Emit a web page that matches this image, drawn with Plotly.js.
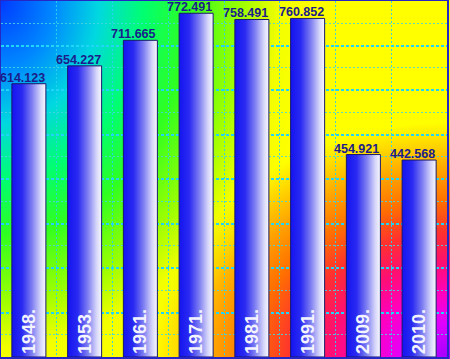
<!DOCTYPE html>
<html>
<head>
<meta charset="utf-8">
<script src="https://cdn.plot.ly/plotly-3.0.1.min.js"></script>
<style>
  html, body { margin: 0; padding: 0; background: #ffffff; }
  #chart {
    width: 450px; height: 359px;
    background:
      radial-gradient(ellipse 450px 560px at 0 0, #0038ff 0%, #0088ff 12%, #00d8e0 22%, #00ff70 32%, #30ff20 42%, #a0ff00 54%, rgba(230,255,0,0.5) 62%, rgba(255,255,0,0) 70%),
      radial-gradient(ellipse 450px 359px at 100% 100%, #a000ff 0%, #e000ff 10%, #ff00c0 18%, #ff1070 27%, #ff3030 35%, #ff7000 44%, #ffa000 52%, #ffd000 59%, #ffff00 66%);
  }
</style>
</head>
<body>
<div id="chart"></div>
<script>
// ---- data ----
const years = ["1948", "1953", "1961", "1971", "1981", "1991", "2009", "2010"];
const yearLabels = ["1948.", "1953.", "1961.", "1971.", "1981.", "1991.", "2009.", "2010."];
const values = [614.123, 654.227, 711.665, 772.491, 758.491, 760.852, 454.921, 442.568];
const valueLabels = ["614.123", "654.227", "711.665", "772.491", "758.491", "760.852", "454.921", "442.568"];

const trace = {
  type: "bar",
  x: years,
  y: values,
  text: yearLabels,
  textposition: "inside",
  insidetextanchor: "start",
  textangle: -90,
  constraintext: "none",
  textfont: { family: "Liberation Sans, Arial, sans-serif", size: 18, color: "#f4f4ff", weight: "bold" },
  marker: { color: "#4040f0", line: { color: "#18186a", width: 1 } },
  hoverinfo: "none"
};

// category axes place annotations by category index
const annotations = years.map((yr, i) => ({
  x: i, y: values[i], xref: "x", yref: "y",
  text: valueLabels[i],
  showarrow: false,
  xanchor: "right", yanchor: "bottom",
  xshift: 18, yshift: -3,
  font: { family: "Liberation Sans, Arial, sans-serif", size: 12.5, color: "#1c1c8a", weight: "bold" }
}));

const layout = {
  width: 450, height: 359,
  margin: { l: 1, r: 3, t: 1, b: 2, pad: 0 },
  paper_bgcolor: "rgba(0,0,0,0)",
  plot_bgcolor: "rgba(0,0,0,0)",
  showlegend: false,
  bargap: 0.39,
  xaxis: {
    type: "category",
    categoryorder: "array", categoryarray: years,
    range: [-0.5, years.length - 0.5], autorange: false,
    showticklabels: false, ticks: "",
    showgrid: true, tickson: "boundaries",
    gridcolor: "rgba(40,210,240,0.9)", gridwidth: 1, griddash: "2px,2px",
    showline: true, linecolor: "#2626c4", linewidth: 2, mirror: true,
    zeroline: false, fixedrange: true
  },
  yaxis: {
    range: [0, 800], autorange: false, dtick: 100,
    showticklabels: false, ticks: "",
    showgrid: true, gridcolor: "#22d4f5", gridwidth: 2, griddash: "3px,2px",
    minor: { dtick: 50, showgrid: true, gridcolor: "rgba(70,215,225,0.85)", gridwidth: 1, griddash: "2px,2px", ticks: "" },
    showline: true, linecolor: "#2626c4", linewidth: 2, mirror: true,
    zeroline: false, fixedrange: true
  },
  annotations: annotations
};

Plotly.newPlot("chart", [trace], layout, { staticPlot: true, displayModeBar: false }).then(gd => {
  const svgNS = "http://www.w3.org/2000/svg";
  const defs = gd.querySelector(".main-svg defs");
  const grad = document.createElementNS(svgNS, "linearGradient");
  grad.setAttribute("id", "barGrad");
  grad.setAttribute("x1", "0"); grad.setAttribute("y1", "0");
  grad.setAttribute("x2", "1"); grad.setAttribute("y2", "0");
  const stops = [[0, "#1414f0"], [0.3, "#2a2af2"], [0.6, "#8080f2"], [0.85, "#d6d6fa"], [1, "#f8f8ff"]];
  stops.forEach(([o, c]) => {
    const s = document.createElementNS(svgNS, "stop");
    s.setAttribute("offset", o);
    s.setAttribute("stop-color", c);
    grad.appendChild(s);
  });
  defs.appendChild(grad);
  gd.querySelectorAll(".barlayer .point path").forEach(p => { p.style.fill = "url(#barGrad)"; });
});
</script>
</body>
</html>
